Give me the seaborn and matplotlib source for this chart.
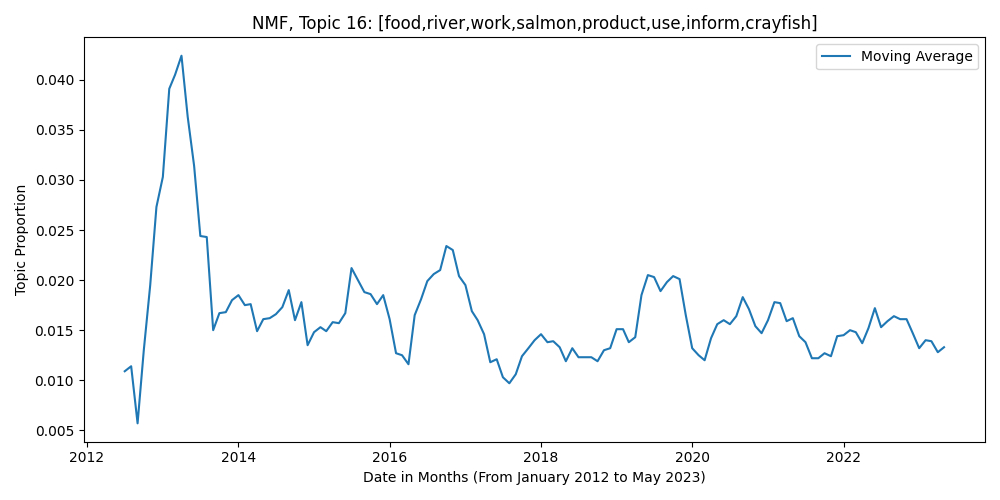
import pandas as pd
import matplotlib
matplotlib.use("Agg")
import matplotlib.pyplot as plt
import seaborn as sns

# monthly moving average, Jul 2012 .. May 2023
start_month = "2012-07-01"
values = [
    .0109, .0114, .0057, .0130, .0195, .0273,
    .0303, .0391, .0405, .0424, .0363, .0314, .0244, .0243, .0150, .0167, .0168, .0180,
    .0185, .0175, .0176, .0149, .0161, .0162, .0166, .0173, .0190, .0160, .0178, .0135,
    .0148, .0153, .0149, .0158, .0157, .0167, .0212, .0200, .0188, .0186, .0176, .0185,
    .0161, .0127, .0125, .0116, .0165, .0181, .0199, .0206, .0210, .0234, .0230, .0204,
    .0195, .0169, .0160, .0146, .0118, .0121, .0103, .0097, .0106, .0124, .0132, .0140,
    .0146, .0138, .0139, .0133, .0119, .0132, .0123, .0123, .0123, .0119, .0130, .0132,
    .0151, .0151, .0138, .0143, .0185, .0205, .0203, .0189, .0198, .0204, .0201, .0165,
    .0132, .0125, .0120, .0142, .0156, .0160, .0156, .0164, .0183, .0171, .0154, .0147,
    .0160, .0178, .0177, .0159, .0162, .0144, .0138, .0122, .0122, .0127, .0124, .0144,
    .0145, .0150, .0148, .0137, .0152, .0172, .0153, .0159, .0164, .0161, .0161, .0147,
    .0132, .0140, .0139, .0128, .0133,
]
dates = pd.date_range(start_month, periods=len(values), freq="MS")
df = pd.DataFrame({"date": dates, "value": values})

plt.figure(figsize=(10, 5), dpi=100)
sns.lineplot(data=df, x="date", y="value", color="#1f77b4", label="Moving Average")
plt.title("NMF, Topic 16: [food,river,work,salmon,product,use,inform,crayfish]")
plt.xlabel("Date in Months (From January 2012 to May 2023)")
plt.ylabel("Topic Proportion")
plt.legend(loc="upper right")
plt.tight_layout()
plt.savefig("out.png")
